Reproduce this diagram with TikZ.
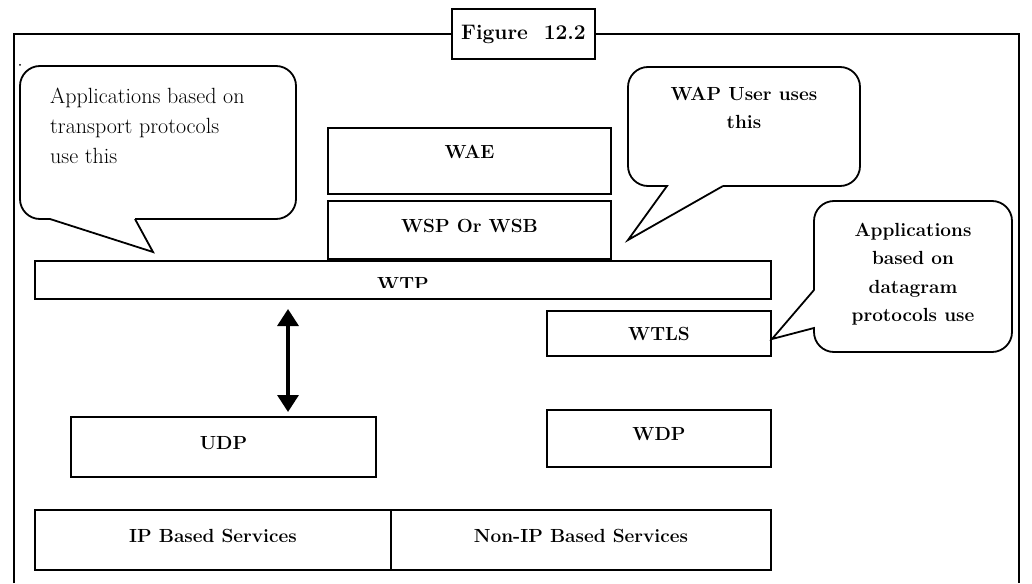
\documentclass[tikz,border=0pt]{standalone}
\usepackage{tikz}
\usetikzlibrary{positioning, arrows.meta}

\begin{document}
\begin{tikzpicture}[x=1pt, y=-1pt,
    layer/.style={draw, line width=1.8pt, anchor=north west, inner sep=0pt, outer sep=0pt,
      font=\fontsize{19}{23}\selectfont\bfseries},
    bubble/.style={draw, line width=1.8pt, line join=miter},
    note/.style={inner sep=0pt, align=left, font=\fontsize{22}{30}\selectfont},
    boldnote/.style={inner sep=0pt, align=center, font=\fontsize{19}{28.5}\selectfont\bfseries},
    updown/.style={line width=3.4pt, >={Triangle[length=17pt,width=21pt]}, <->}]
  \useasboundingbox (0,0) rectangle (1032,583);

  % frame and title
  \draw[line width=2.2pt] (14,583) -- (14,34) -- (1019,34) -- (1019,583);
  \node[draw, line width=2.2pt, fill=white, minimum width=143pt, minimum height=50pt,
        font=\fontsize{21}{25}\selectfont\bfseries] (title) at (523.5,34) {Figure\ \ 12.2};
  \fill (20,65) circle (1pt);

  % protocol layers
  \node[layer, minimum width=283pt, minimum height=66pt, text depth=18pt] (wae) at (328,128) {WAE};
  \node[layer, minimum width=283pt, minimum height=58pt, text depth=9pt,
        below=7pt of wae.south west, anchor=north west] (wsp) {WSP Or WSB};
  \node[layer, minimum width=736pt, minimum height=38pt] (wtp) at (35,261) {};
  \begin{scope}
    \clip (wtp.north west) rectangle ([yshift=-7pt]wtp.east);
    \node[inner sep=0pt, anchor=north, font=\fontsize{19}{23}\selectfont\bfseries]
      (wtplabel) at ([yshift=-16pt]wtp.north) {WTP};
  \end{scope}
  \node[layer, minimum width=224pt, minimum height=45pt] (wtls) at (547,311) {WTLS};
  \node[layer, minimum width=224pt, minimum height=57pt, text depth=9pt] (wdp) at (547,410) {WDP};
  \node[layer, minimum width=305pt, minimum height=60pt, text depth=9pt] (udp) at (71,417) {UDP};
  \node[layer, minimum width=356pt, minimum height=60pt, text depth=9pt] (ip) at (35,510) {IP Based Services};
  \node[layer, minimum width=380pt, minimum height=60pt, text depth=9pt,
        right=0pt of ip.north east, anchor=north west] (nonip) {Non-IP Based Services};

  % WTP <-> UDP
  \coordinate (ax) at (288,0);
  \draw[updown, shorten <=10pt, shorten >=5pt] (ax |- wtp.south) -- (ax |- udp.north);

  % callouts
  \coordinate (tip1) at (153,252);
  \coordinate (tip2) at (628,240);
  \coordinate (tip3) at (772,339);
  \draw[bubble] (135,219) -- (tip1) -- (50,219) [rounded corners=20pt] -- (20,219) -- (20,66)
    -- (296,66) -- (296,219) -- (135,219);
  \node[note, anchor=north west] (transport) at (50,88)
    {Applications based on\\transport protocols\\use this};
  \draw[bubble] (723,186) -- (tip2) -- (667,186) [rounded corners=20pt] -- (628,186) -- (628,67)
    -- (860,67) -- (860,186) -- (723,186);
  \node[boldnote] (wapuser) at (744,108) {WAP User uses\\this};
  \draw[bubble] (814,290) -- (tip3) -- (814,328) [rounded corners=20pt] -- (814,352) -- (1012,352)
    -- (1012,201) -- (814,201) -- (814,290);
  \node[boldnote] (datagram) at (913,274) {Applications\\based on\\datagram\\protocols use};
\end{tikzpicture}
\end{document}
